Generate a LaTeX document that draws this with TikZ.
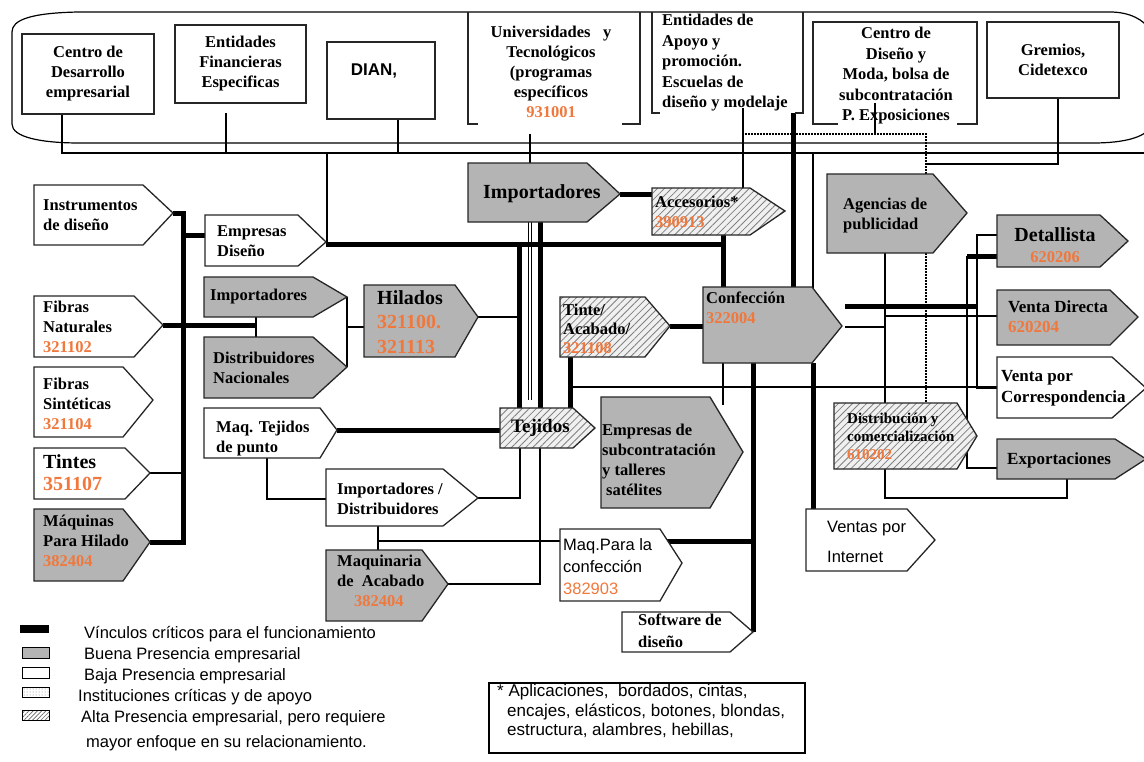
\documentclass[tikz,border=0pt]{standalone}
\usepackage{fontspec}
\setmainfont{Liberation Serif}
\setsansfont{Liberation Sans}
\usetikzlibrary{patterns.meta}
\definecolor{org}{HTML}{F0783C}
\definecolor{gfill}{HTML}{B4B4B4}
\newcommand\pent[8]{\draw[#2] (#3,#4) -- (#5,#4) -- (#6,#8) -- (#5,#7) -- (#3,#7) -- cycle; \coordinate (#1-tip) at (#6,#8);}
\newcommand\on[1]{\textcolor{org}{#1}}
\begin{document}
\begin{tikzpicture}[x=1pt,y=-1pt,
  shp/.style={draw=black!85,line width=1.3pt,line join=miter},
  wsh/.style={shp,fill=white},
  gsh/.style={shp,fill=gfill},
  hsh/.style={shp,preaction={fill=black!6},preaction={pattern={Lines[angle=45,distance=5pt,line width=0.8pt]},pattern color=black!50}},
  thn/.style={line width=1.2pt},
  med/.style={line width=2.4pt,line join=miter},
  thk/.style={line width=5pt,line join=miter},
  dot/.style={line width=1.2pt,dash pattern=on 1.5pt off 1.5pt},
  lbl/.style={inner sep=0pt,anchor=west,align=left,font=\bfseries\fontsize{16.5}{20}\selectfont},
  big/.style={lbl,font=\bfseries\fontsize{20}{22}\selectfont},
  clbl/.style={lbl,anchor=center,align=center},
  sns/.style={inner sep=0pt,anchor=west,align=left,font=\sffamily\fontsize{16.5}{22}\selectfont},
  leg/.style={inner sep=0pt,anchor=west,font=\sffamily\fontsize{16.5}{20}\selectfont},
  tbox/.style={draw=black!85,line width=1.3pt,fill=white,inner sep=0pt,align=center,font=\bfseries\fontsize{16.5}{20}\selectfont},
]
\useasboundingbox (0,0) rectangle (1144,761);
\fill[white] (0,0) rectangle (1144,761);

% ---------- container of institutions
\draw[thn] (78,12) .. controls (30,13) and (12,20) .. (12,32) -- (12,124) .. controls (12,137) and (40,143) .. (80,143) -- (1093,143) .. controls (1125,143) and (1144,137) .. (1150,128);
\draw[thn] (78,12) -- (1110,12) .. controls (1130,12) and (1144,20) .. (1150,30);

% ---------- connectors (drawn first)
\draw[thn] (62,114) -- (62,153) -- (1150,153);
\draw[thn] (226,113) -- (226,153);
\draw[thn] (398,119) -- (398,153);
\coordinate (bus327) at (327,153);
\draw[thn] (bus327) -- (327,242);
\draw[thn] (530,134) -- (530,165);
\draw[line width=0.9pt,double,double distance=2pt] (530,222) -- (530,400);
\draw[thn] (743,108) -- (743,188);
\draw[thk] (793,113) -- (793,287);
\draw[thn] (813,153) -- (813,288);
\draw[thn] (875,103) -- (875,134);
\draw[dot] (745,134) -- (926,134) -- (926,403);
\draw[thn] (1058,98) -- (1058,164) -- (926,164);

\coordinate (instr-tip) at (173,213);
\coordinate (maqh-tip) at (150,542);
\draw[thk] (instr-tip) -- (183,213) -- (183,542) -- (maqh-tip);
\draw[thk] (183,235) -- (205,235);
\draw[med] (150,473) -- (183,473);
\draw[thk] (163,325) -- (256,325);
\draw[med] (256,317) -- (256,337);
\draw[med] (347,297) -- (347,367);
\draw[med] (347,327) -- (364,327);
\draw[thn] (478,317) -- (519,317);
\draw[thk] (326,244) -- (723,244);
\draw[thk] (519,244) -- (519,408);
\draw[thk] (540,222) -- (540,408);
\draw[thk] (620,194) -- (652,194);
\draw[thk] (723,235) -- (723,287);
\draw[thk] (670,326) -- (703,326);
\draw[thk] (570,357) -- (570,408);
\draw[thn] (570,387) -- (997,387);
\draw[thk] (337,430) -- (500,430);
\draw[thn] (267,458) -- (267,499) -- (326,499);
\draw[med] (478,498) -- (520,498) -- (520,448);
\draw[med] (448,584) -- (540,584) -- (540,448);
\draw[thn] (378,526) -- (378,550);
\draw[thn] (378,541) -- (560,541);
\draw[thk] (665,541) -- (753,541);
\draw[thk] (753,363) -- (753,632);
\draw[thn] (723,363) -- (723,405);
\draw[thk] (813,363) -- (813,509);
\draw[thk] (845,306) -- (977,306);
\draw[thn] (845,327) -- (885,327);
\draw[thn] (885,253) -- (885,403);
\draw[thn] (885,316) -- (997,316);
\draw[thk] (967,256) -- (997,256);
\draw[med] (967,256) -- (967,468) -- (997,468);
\draw[med] (997,235) -- (977,235) -- (977,388) -- (997,388);
\draw[med] (885,469) -- (885,498) -- (1067,498) -- (1067,479);

% ---------- institution boxes
\node[tbox,minimum width=132,minimum height=80] (cde) at (88,74) {Centro de\\Desarrollo\\empresarial};
\node[tbox,minimum width=131,minimum height=78] (efin) at (240.5,64) {Entidades\\Financieras\\Especificas};
\node[tbox,minimum width=108,minimum height=77] (dian) at (381,80.5) {};
\node[inner sep=0pt,font=\sffamily\bfseries\fontsize{17}{20}\selectfont] (diant) at (374,71) {DIAN,};
\draw[shp] (478,124) -- (468,124) -- (468,12);
\draw[shp] (622,124) -- (640,124) -- (640,12);
\node[clbl] (univ) at (551,72) {Universidades\ \ \ y\\Tecnológicos\\(programas\\específicos\\\on{931001}};
\draw[shp] (660,113) -- (652,113) -- (652,12);
\draw[shp] (795,113) -- (803,113) -- (803,12);
\node[lbl,font=\bfseries\fontsize{16.5}{20.5}\selectfont] (eapo) at (662,63) {Entidades de\\Apoyo y\\promoción.\\Escuelas de\\diseño y modelaje};
\draw[shp] (838,124) -- (813,124) -- (813,22) -- (977,22) -- (977,124) -- (957,124);
\node[clbl,font=\bfseries\fontsize{16.5}{20.5}\selectfont] (cdis) at (896,76) {Centro de\\Diseño y\\Moda, bolsa de\\subcontratación\\P. Exposiciones};
\node[tbox,minimum width=132,minimum height=76] (grem) at (1053,60) {Gremios,\\Cidetexco};

% ---------- pentagon shapes
\pent{instrs}{wsh}{34}{185}{143}{173}{245}{213}
\pent{empds}{wsh}{205}{215}{298}{326}{266}{242}
\pent{impls}{gsh}{204}{277}{313}{347}{317}{297}
\pent{dists}{gsh}{204}{337}{313}{347}{398}{367}
\pent{fnats}{wsh}{34}{296}{134}{163}{357}{325}
\pent{fsins}{wsh}{34}{367}{123}{153}{437}{400}
\pent{tints}{wsh}{34}{448}{125}{150}{499}{473}
\pent{maqhs}{gsh}{34}{509}{123}{150}{581}{542}
\pent{hils}{gsh}{364}{285}{455}{478}{357}{317}
\pent{impms}{gsh}{468}{163}{587}{620}{222}{194}
\pent{accs}{hsh}{652}{188}{750}{785}{235}{211}
\pent{tintes}{hsh}{560}{297}{645}{670}{357}{326}
\pent{confs}{gsh}{703}{287}{812}{842}{363}{326}
\pent{tejs}{hsh}{500}{408}{573}{595}{448}{428}
\pent{mqts}{wsh}{204}{408}{320}{337}{458}{430}
\pent{impds}{wsh}{326}{469}{443}{478}{526}{498}
\pent{maqas}{gsh}{326}{550}{422}{448}{621}{584}
\pent{mqps}{wsh}{560}{529}{660}{682}{601}{563}
\pent{softs}{wsh}{622}{612}{730}{753}{652}{632}
\pent{empss}{gsh}{601}{397}{710}{743}{508}{452}
\pent{agens}{gsh}{827}{174}{933}{967}{253}{213}
\pent{dets}{gsh}{997}{215}{1100}{1128}{267}{241}
\pent{vdirs}{gsh}{997}{290}{1110}{1138}{345}{317}
\pent{vcors}{wsh}{997}{357}{1112}{1146}{418}{388}
\pent{distcs}{hsh}{834}{403}{957}{977}{469}{436}
\pent{expos}{gsh}{997}{439}{1115}{1146}{479}{459}
\pent{vints}{wsh}{806}{509}{907}{935}{571}{540}

% ---------- texts
\node[lbl] (instr) at (43,215) {Instrumentos\\de diseño};
\node[lbl] (empd) at (217,241) {Empresas\\Diseño};
\node[lbl] (impl) at (210,297) {Importadores};
\node[lbl] (dist) at (213,368) {Distribuidores\\Nacionales};
\node[lbl] (fnat) at (43,327) {Fibras\\Naturales\\\on{321102}};
\node[lbl] (fsin) at (43,404) {Fibras\\Sintéticas\\\on{321104}};
\node[big] (tint) at (43,473) {Tintes\\\on{351107}};
\node[lbl] (maqh) at (43,541) {Máquinas\\Para Hilado\\\on{382404}};
\node[lbl,font=\bfseries\fontsize{20}{24.5}\selectfont] (hil) at (377,322) {Hilados\\\on{321100.}\\\on{321113}};
\node[big] (impm) at (483,194) {Importadores};
\node[lbl] (acc) at (655,212) {Accesorios*\\\on{390913}};
\node[lbl,font=\bfseries\fontsize{16.5}{19}\selectfont] (tinte) at (563,329) {Tinte/\\Acabado/\\\on{321108}};
\node[lbl] (conf) at (706,308) {Confección\\\on{322004}};
\node[lbl,font=\bfseries\fontsize{19}{22}\selectfont] (tej) at (511,428) {Tejidos};
\node[lbl] (mqt) at (216,439) {Maq. Tejidos\\de punto};
\node[lbl] (impd) at (337,499) {Importadores /\\Distribuidores};
\node[lbl] (maqa) at (337,581) {Maquinaria\\de\ \ Acabado\\\hspace*{17pt}\on{382404}};
\node[sns] (mqp) at (563,567) {Maq.Para la\\confección\\\on{382903}};
\node[lbl,font=\bfseries\fontsize{16.5}{22}\selectfont] (soft) at (638,631) {Software de\\diseño};
\node[lbl] (emps) at (602,460) {Empresas de\\subcontratación\\y talleres\\\hspace*{4pt}satélites};
\node[lbl] (agen) at (843,216) {Agencias de\\publicidad};
\node[clbl,font=\bfseries\fontsize{20}{21}\selectfont] (det) at (1055,245) {Detallista\\{\fontsize{16.5}{20}\selectfont\on{620206}}};
\node[lbl,font=\bfseries\fontsize{17}{20}\selectfont] (vdir) at (1008,317) {Venta Directa\\\on{620204}};
\node[lbl,font=\bfseries\fontsize{17}{21}\selectfont] (vcor) at (1001,388) {Venta por\\Correspondencia};
\node[lbl,font=\bfseries\fontsize{15}{18}\selectfont] (distc) at (847,436) {Distribución y\\comercialización\\\on{610202}};
\node[lbl,font=\bfseries\fontsize{17}{20}\selectfont] (expo) at (1007,460) {Exportaciones};
\node[sns,font=\sffamily\fontsize{16.5}{30}\selectfont] (vint) at (827,542) {Ventas por\\Internet};

% ---------- legend
\fill[black] (20,625) rectangle (49,633);
\draw[line width=1pt,fill=gfill] (22,647) rectangle (49,658);
\draw[line width=1pt,fill=white] (22,667) rectangle (49,678);
\draw[line width=1pt,pattern={Dots[distance=3pt,radius=0.5pt]},pattern color=black!50] (22,687) rectangle (49,697);
\draw[line width=1pt,pattern={Lines[angle=45,distance=3pt,line width=0.7pt]},pattern color=black!60] (22,710) rectangle (49,720);
\node[leg] (l1) at (84,634) {Vínculos críticos para el funcionamiento};
\node[leg] (l2) at (84,655) {Buena Presencia empresarial};
\node[leg] (l3) at (84,676) {Baja Presencia empresarial};
\node[leg] (l4) at (78,697) {Instituciones críticas y de apoyo};
\node[leg] (l5) at (81,718) {Alta Presencia empresarial, pero requiere};
\node[leg] (l6) at (86,743) {mayor enfoque en su relacionamiento.};

% ---------- footnote
\node[draw,line width=1.2pt,minimum width=316,minimum height=70,inner sep=0pt] (foot) at (647,718) {};
\node[sns,font=\sffamily\fontsize{17}{19.5}\selectfont] (foott) at (497,711) {* Aplicaciones,\ \ bordados, cintas,\\\hspace*{10pt}encajes, elásticos, botones, blondas,\\\hspace*{10pt}estructura, alambres, hebillas,};
\end{tikzpicture}
\end{document}
